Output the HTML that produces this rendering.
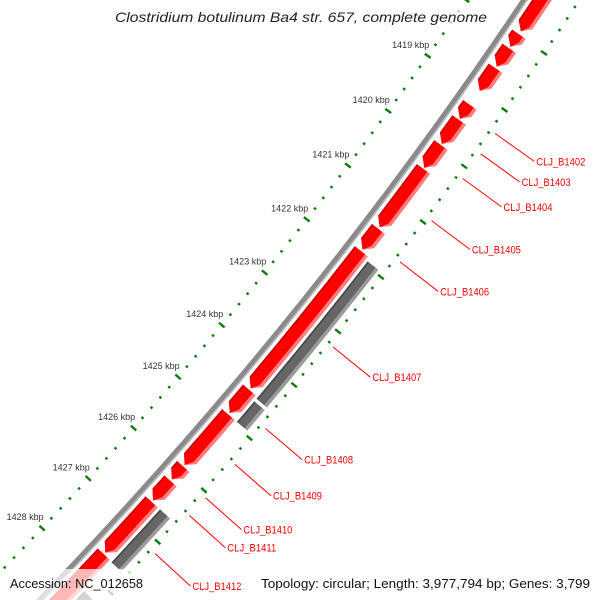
<!DOCTYPE html>
<html><head><meta charset="utf-8"><style>
html,body{margin:0;padding:0;background:#fff;width:600px;height:600px;overflow:hidden;}
svg{display:block;overflow:hidden;}
</style></head><body>
<svg id="map" width="600" height="600" viewBox="0 0 600 600" xmlns="http://www.w3.org/2000/svg">
<g id="rings"></g>
<g id="feats"></g>
<g id="labels"></g>
<rect x="108" y="4" width="386" height="26" fill="#fff" opacity="0.7"/>
<text x="115" y="22" font-family="Liberation Sans, sans-serif" font-style="italic" font-size="14" fill="#222" textLength="372" lengthAdjust="spacingAndGlyphs">Clostridium botulinum Ba4 str. 657, complete genome</text>
<rect x="0" y="569" width="152" height="31" fill="#fff" opacity="0.72"/>
<rect x="254" y="569" width="346" height="31" fill="#fff" opacity="0.72"/>
<text x="10" y="588" font-family="Liberation Sans, sans-serif" font-size="13" fill="#111" textLength="133" lengthAdjust="spacingAndGlyphs">Accession: NC_012658</text>
<text x="261" y="588" font-family="Liberation Sans, sans-serif" font-size="13" fill="#111" textLength="329" lengthAdjust="spacingAndGlyphs">Topology: circular; Length: 3,977,794 bp; Genes: 3,799</text>
</svg>
<script>
// ---- data (kbp) ----
const fwdStarts=[1416.0,1417.98,1418.23,1418.58,1419.23,1419.50,1419.95,1420.38,1421.47,1421.88,1424.47,1424.94,1425.94,1426.22,1426.63,1427.66];
const fwdEnds=[1417.93,1418.20,1418.55,1418.98,1419.48,1419.93,1420.36,1421.44,1421.85,1424.44,1424.91,1425.91,1426.19,1426.60,1427.63,1430.0];
const fwdLabels=['','','','','CLJ_B1402','CLJ_B1403','CLJ_B1404','CLJ_B1405','CLJ_B1406','','','CLJ_B1409','CLJ_B1410','CLJ_B1411','',''];
const revStarts=[1421.94,1424.55,1426.63,1428.25];
const revEnds=[1424.50,1424.94,1427.67,1430.0];
const revLabels=['CLJ_B1407','CLJ_B1408','CLJ_B1412',''];
const tickValues=[1418,1419,1420,1421,1422,1423,1424,1425,1426,1427,1428,1429];
const tickLabels=tickValues.map(v=>v+' kbp');

// ---- geometry ----
const NS='http://www.w3.org/2000/svg';
const CX=-3080, CY=-2414, A0=35.15, DEG=0.9056;
const R_BB=4338, R_FWD_IN=4344.5, R_FWD_OUT=4361, R_REV_IN=4364, R_REV_OUT=4377.5;
const R_TICK_IN=4290, R_TICK_OUT=4384, R_LINE0=4390, R_LINE1=4438;
function ang(k){return (A0+(k-1419)*DEG)*Math.PI/180;}
function pt(r,k){const a=ang(k);return [CX+r*Math.cos(a),CY+r*Math.sin(a)];}
function P(r,k){const p=pt(r,k);return p[0].toFixed(2)+' '+p[1].toFixed(2);}
function mk(tag,parent,attrs){const e=document.createElementNS(NS,tag);for(const k in attrs)e.setAttribute(k,attrs[k]);parent.appendChild(e);return e;}
const rings=document.getElementById('rings'),feats=document.getElementById('feats'),labels=document.getElementById('labels');

// backbone
let bb=mk('path',rings,{d:`M ${P(R_BB,1415)} A ${R_BB} ${R_BB} 0 0 1 ${P(R_BB,1431)}`,fill:'none',stroke:'#8a8a8a','stroke-width':6});


let bb2=mk('path',rings,{d:`M ${P(R_BB+2.3,1415)} A ${R_BB} ${R_BB} 0 0 1 ${P(R_BB+2.3,1431)}`,fill:'none',stroke:'#b8b8b8','stroke-width':1.6});



// tick rings
function tickRing(r,name){
  for(let i=0;i<=70;i++){
    const k=1416+i*0.2;
    const major=Math.abs(k-Math.round(k))<1e-6;
    const half=major?3.6:1.3;
    const e=mk('path',rings,{d:`M ${P(r-half,k)} L ${P(r+half,k)}`,stroke:'#0b7d0b','stroke-width':2.4});
    
    
  }
}
tickRing(R_TICK_IN,'inner-ring');
tickRing(R_TICK_OUT,'outer-ring');
tickValues.forEach((v,i)=>{
  const p=pt(R_TICK_IN,v);
  const t=mk('text',rings,{x:(p[0]-17).toFixed(1),y:(p[1]-8).toFixed(1),'text-anchor':'middle','font-family':'Liberation Sans, sans-serif','font-size':9,fill:'#333'});
  t.textContent=tickLabels[i];
  
  
});

// features
function arrow(k1,k2,rIn,rOut,rTip){
  let h=0.12; if(k2-h<k1) h=k2-k1;
  return `M ${P(rOut,k1)} A ${rOut} ${rOut} 0 0 1 ${P(rOut,k2-h)} L ${P(rTip,k2)} L ${P(rIn,k2-h)} A ${rIn} ${rIn} 0 0 0 ${P(rIn,k1)} Z`;
}
function band(k1,k2,rIn,rOut){
  return `M ${P(rOut,k1)} A ${rOut} ${rOut} 0 0 1 ${P(rOut,k2)} L ${P(rIn,k2)} A ${rIn} ${rIn} 0 0 0 ${P(rIn,k1)} Z`;
}
function leader(k,text){
  const a=pt(R_LINE0,k),b=pt(R_LINE1,k);
  const l=mk('line',labels,{x1:a[0].toFixed(1),y1:a[1].toFixed(1),x2:b[0].toFixed(1),y2:b[1].toFixed(1),stroke:'#ff0000','stroke-width':1});
  
  
  const t=mk('text',labels,{x:(b[0]+2).toFixed(1),y:(b[1]+4).toFixed(1),'font-family':'Liberation Sans, sans-serif','font-size':11,fill:'#ff0000',textLength:49,lengthAdjust:'spacingAndGlyphs'});
  t.textContent=text;
  
  
}
const rMidF=(R_FWD_IN+R_FWD_OUT)/2;
fwdStarts.forEach((s,i)=>{
  const e=fwdEnds[i];
  const g=mk('g',feats,{});
  
  
  mk('path',g,{d:arrow(s,e,R_FWD_IN,R_FWD_OUT,rMidF),fill:'#ff7a7a'});
  mk('path',g,{d:arrow(s,e,R_FWD_IN,R_FWD_OUT-3.5,rMidF),fill:'#ff0000'});
  mk('path',g,{d:band(s,Math.max(s,e-0.12),R_FWD_IN,R_FWD_IN+1.6),fill:'#c80000'});
  if(fwdLabels[i]) leader((s+e)/2,fwdLabels[i]);
});
revStarts.forEach((s,i)=>{
  const e=revEnds[i];
  const g=mk('g',feats,{});
  
  
  mk('path',g,{d:band(s,e,R_REV_IN,R_REV_OUT),fill:'#9a9a9a'});
  mk('path',g,{d:band(s,e,R_REV_IN,R_REV_OUT-3.5),fill:'#666666'});
  mk('path',g,{d:band(s,e,R_REV_IN,R_REV_IN+1.6),fill:'#484848'});
  if(revLabels[i]) leader((s+e)/2,revLabels[i]);
});
</script>
</body></html>
